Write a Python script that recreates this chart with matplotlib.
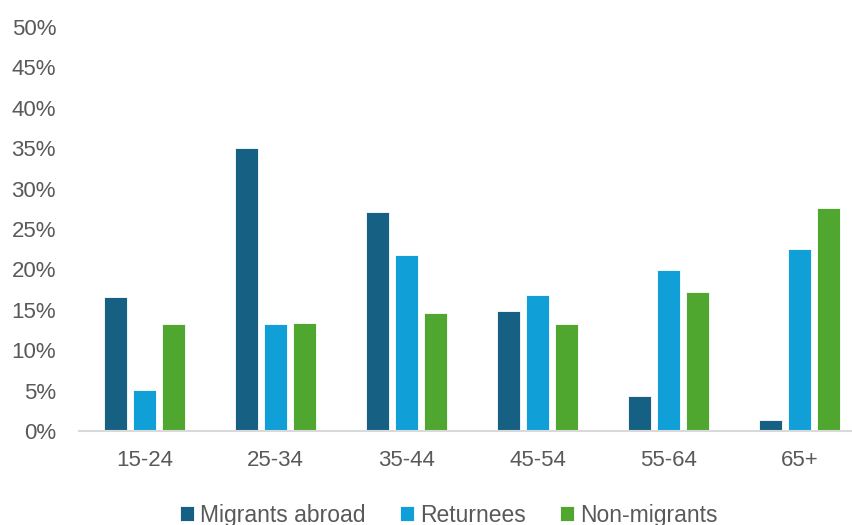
import matplotlib
matplotlib.use('Agg')
import matplotlib.pyplot as plt
from matplotlib.ticker import PercentFormatter
import numpy as np

plt.rcParams['font.family'] = ['Liberation Sans', 'DejaVu Sans']

# Data
age_groups = ['15-24', '25-34', '35-44', '45-54', '55-64', '65+']
series_names = ['Migrants abroad', 'Returnees', 'Non-migrants']
migrants_abroad = [16.6, 35.0, 27.1, 14.9, 4.3, 1.4]
returnees = [5.1, 13.2, 21.8, 16.8, 19.9, 22.5]
non_migrants = [13.2, 13.4, 14.6, 13.3, 17.2, 27.6]
colors = ['#166083', '#109FD7', '#4FA72F']

text_color = '#595959'

fig = plt.figure(figsize=(8.52, 5.25), dpi=100)
ax = fig.add_axes([0.0927, 0.179, 0.9073, 0.7695])

x = np.arange(len(age_groups))
bar_w = 0.176
step = 0.221
for i, (vals, name, col) in enumerate(zip([migrants_abroad, returnees, non_migrants], series_names, colors)):
    ax.bar(x + (i - 1) * step, np.array(vals) / 100, width=bar_w, color=col,
           edgecolor='#ffffff', linewidth=0.6, label=name, zorder=2)

ax.set_xlim(-0.5, 5.4)
ax.set_ylim(0, 0.5)
ax.set_yticks(np.arange(0, 0.51, 0.05))
ax.yaxis.set_major_formatter(PercentFormatter(1.0, decimals=0))
ax.set_xticks(x)
ax.set_xticklabels(age_groups)

for s in ['top', 'right', 'left']:
    ax.spines[s].set_visible(False)
ax.spines['bottom'].set_color('#D9D9D9')
ax.spines['bottom'].set_linewidth(1.5)
ax.spines['bottom'].set_zorder(3)

ax.tick_params(axis='y', length=0, pad=16.5, labelsize=16, labelcolor=text_color)
ax.tick_params(axis='x', length=0, pad=14, labelsize=16, labelcolor=text_color)

fig.legend(loc='center', bbox_to_anchor=(0.527, 0.019), ncol=3, frameon=False,
           fontsize=16.5, labelcolor=text_color, handlelength=0.6, handleheight=0.6,
           handletextpad=0.28, columnspacing=1.5, borderpad=0)

plt.savefig('out.png', dpi=100)
plt.close()
